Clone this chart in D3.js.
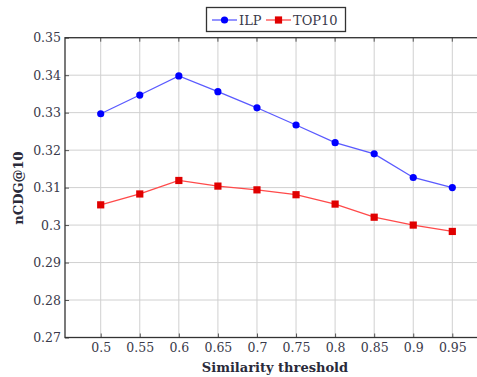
<!DOCTYPE html>
<html><head><meta charset="utf-8">
<script src="https://cdn.jsdelivr.net/npm/d3@7"></script>
<style>body{margin:0;background:#fff} svg text{font-family:"DejaVu Serif","Liberation Serif",serif;}</style>
</head><body>
<svg id="c" width="477" height="377"></svg>
<script>
const thresholds = [0.5,0.55,0.6,0.65,0.7,0.75,0.8,0.85,0.9,0.95];
const ilp = [0.3297,0.3347,0.3398,0.3356,0.3313,0.3267,0.3220,0.3190,0.3127,0.3100];
const top10 = [0.3054,0.3083,0.3119,0.3104,0.3094,0.3081,0.3056,0.3021,0.3000,0.2983];
const yTicks = [0.27,0.28,0.29,0.3,0.31,0.32,0.33,0.34,0.35];
const yTickLabels = ["0.27","0.28","0.29","0.3","0.31","0.32","0.33","0.34","0.35"];
const xTickLabels = ["0.5","0.55","0.6","0.65","0.7","0.75","0.8","0.85","0.9","0.95"];
const seriesNames = ["ILP","TOP10"];

const svg = d3.select("#c");
const L=65, R=482, T=37.7, B=337.5;
const x = d3.scaleLinear().domain([0.4543,0.988]).range([L,R]);
const y = d3.scaleLinear().domain([0.27,0.35]).range([B,T]);

svg.append("g").selectAll("line").data(thresholds).join("line")
  .attr("x1",d=>x(d)).attr("x2",d=>x(d)).attr("y1",T).attr("y2",B)
  .attr("stroke","#d0d0d0").attr("stroke-width",1);
svg.append("g").selectAll("line").data(yTicks).join("line")
  .attr("x1",L).attr("x2",R).attr("y1",d=>y(d)).attr("y2",d=>y(d))
  .attr("stroke","#d0d0d0").attr("stroke-width",1);

const xa = svg.append("g").attr("transform",`translate(0,${B})`)
  .call(d3.axisBottom(x).tickValues(thresholds).tickFormat((d,i)=>xTickLabels[i]).tickSize(-4).tickPadding(6));
const ya = svg.append("g").attr("transform",`translate(${L},0)`)
  .call(d3.axisLeft(y).tickValues(yTicks).tickFormat((d,i)=>yTickLabels[i]).tickSize(-4).tickPadding(4));
[xa,ya].forEach(a=>{
  a.attr("font-family",null).attr("font-size",null);
  a.select(".domain").remove();
  a.selectAll(".tick line").attr("stroke","#555");
  a.selectAll("text").style("font-size","12.5px").attr("fill","#3a3a4a");
});
svg.append("g").selectAll("line").data(thresholds).join("line")
  .attr("x1",d=>x(d)).attr("x2",d=>x(d)).attr("y1",T).attr("y2",T+4).attr("stroke","#555");

svg.append("rect").attr("x",L).attr("y",T).attr("width",R-L).attr("height",B-T)
  .attr("fill","none").attr("stroke","#333").attr("stroke-width",1.3);

const line = d3.line().x((d,i)=>x(thresholds[i])).y(d=>y(d));
svg.append("path").datum(ilp).attr("d",line).attr("fill","none").attr("stroke","#5a5aff").attr("stroke-width",1.3);
svg.append("path").datum(top10).attr("d",line).attr("fill","none").attr("stroke","#ff4a4a").attr("stroke-width",1.3);
svg.append("g").selectAll("circle").data(ilp).join("circle")
  .attr("cx",(d,i)=>x(thresholds[i])).attr("cy",d=>y(d)).attr("r",3.6).attr("fill","#0000ff");
svg.append("g").selectAll("rect").data(top10).join("rect")
  .attr("x",(d,i)=>x(thresholds[i])-3.6).attr("y",d=>y(d)-3.6).attr("width",7.2).attr("height",7.2).attr("fill","#e00000");

svg.append("text").attr("x",275).attr("y",372).attr("text-anchor","middle")
  .style("font-weight","bold").style("font-size","13px").attr("fill","#2a2a3a").text("Similarity threshold");
svg.append("text").attr("transform","translate(23,188) rotate(-90)").attr("text-anchor","middle")
  .style("font-weight","bold").style("font-size","13px").attr("fill","#2a2a3a").text("nCDG@10");

const lg = svg.append("g");
lg.append("rect").attr("x",206.5).attr("y",7.5).attr("width",139).attr("height",24)
  .attr("fill","#fff").attr("stroke","#333").attr("stroke-width",1.3);
lg.append("line").attr("x1",212).attr("x2",237).attr("y1",20).attr("y2",20).attr("stroke","#5a5aff").attr("stroke-width",1.3);
lg.append("circle").attr("cx",224.5).attr("cy",20).attr("r",3.6).attr("fill","#0000ff");
lg.append("text").attr("x",239).attr("y",25).style("font-size","13px").attr("fill","#3a3a4a").text(seriesNames[0]);
lg.append("line").attr("x1",266).attr("x2",291).attr("y1",20).attr("y2",20).attr("stroke","#ff4a4a").attr("stroke-width",1.3);
lg.append("rect").attr("x",274.9).attr("y",16.4).attr("width",7.2).attr("height",7.2).attr("fill","#e00000");
lg.append("text").attr("x",293).attr("y",25).style("font-size","13px").attr("fill","#3a3a4a").text(seriesNames[1]);
</script>
</body></html>
